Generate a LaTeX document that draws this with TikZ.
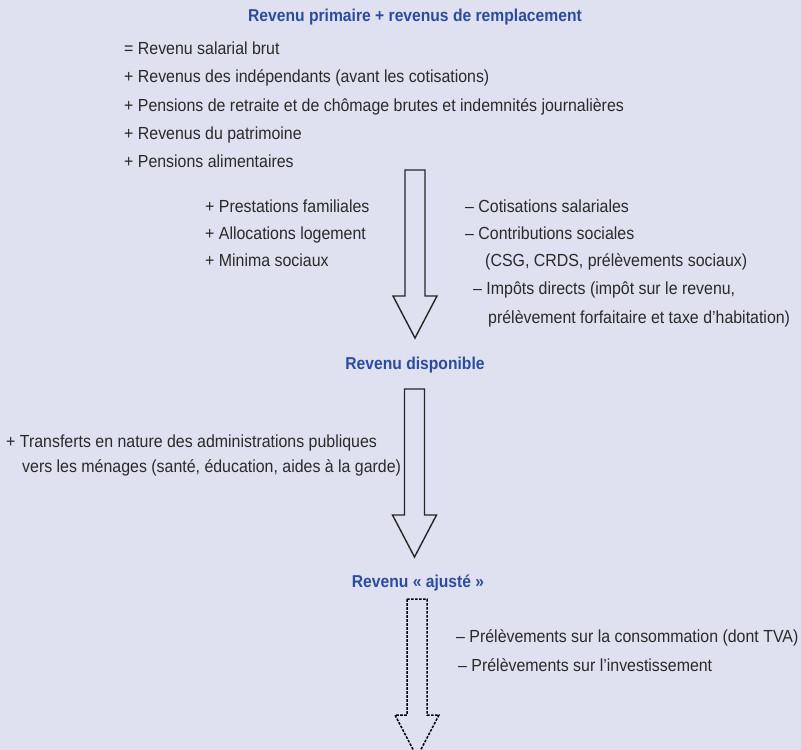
\documentclass[tikz,border=0pt]{standalone}
\usepackage{fontspec}
\setmainfont{Liberation Sans}[FakeStretch=0.91]
\usetikzlibrary{calc}
\definecolor{bgblue}{HTML}{DFE1F0}
\definecolor{headblue}{HTML}{2B4C9E}
\definecolor{textdark}{HTML}{2A2A2A}
\definecolor{linedark}{HTML}{262626}
\tikzset{
  heading/.style={font=\fontsize{17.2}{20}\selectfont\bfseries, text=headblue, inner sep=0pt},
  item/.style={anchor=west, font=\fontsize{17.5}{20}\selectfont, text=textdark,
    inner sep=0pt, text height=12pt, text depth=4pt},
  flow/.style={draw=linedark, line width=1.4pt, line join=miter},
  flowdashed/.style={flow, draw=black, line width=1.5pt, dash pattern=on 2.6pt off 1.4pt}
}
% hollow block arrow: #1 style, #2 top of shaft, #3 tip
\newcommand{\blockarrow}[3]{
  \draw[#1] let \p1=(#2), \p2=(#3) in
    (\x1-10pt,\y1) -- (\x1+10pt,\y1) -- (\x1+10pt,\y2+42pt) -- (\x1+22pt,\y2+42pt)
    -- (\x1,\y2) -- (\x1-22pt,\y2+42pt) -- (\x1-10pt,\y2+42pt) -- cycle;
}

\begin{document}
\begin{tikzpicture}[x=1pt,y=-1pt]
\fill[bgblue] (0,0) rectangle (801,750);
\useasboundingbox (0,0) rectangle (801,750);
% first block
\node[heading] (primaire) at (415,17) {Revenu primaire + revenus de remplacement};
\foreach \ypos/\txt [count=\i] in {50/{= Revenu salarial brut},
    78/{+ Revenus des indépendants (avant les cotisations)},
    107/{+ Pensions de retraite et de chômage brutes et indemnités journalières},
    135/{+ Revenus du patrimoine},
    163/{+ Pensions alimentaires}}
  \node[item] (comp\i) at (124,\ypos) {\txt};
\coordinate (a1s) at (415,170);
\coordinate (a1e) at (415,338);
\blockarrow{flow}{a1s}{a1e}
\foreach \ypos/\txt [count=\i] in {208/{+ Prestations familiales},
    235/{+ Allocations logement},
    262/{+ Minima sociaux}}
  \node[item] (plus\i) at (205,\ypos) {\txt};
\node[item] (moins1) at (465,208) {– Cotisations salariales};
\node[item] (moins2) at (465,235) {– Contributions sociales};
\node[item] (moins2b) at (485,262) {(CSG, CRDS, prélèvements sociaux)};
\node[item] (moins3) at (473,290) {– Impôts directs (impôt sur le revenu,};
\node[item] (moins3b) at (488,319) {prélèvement forfaitaire et taxe d’habitation)};
% second block
\node[heading] (dispo) at (415,365) {Revenu disponible};
\coordinate (a2s) at (414.5,389);
\coordinate (a2e) at (414.5,557);
\blockarrow{flow}{a2s}{a2e}
\node[item] (transf) at (6,443) {+ Transferts en nature des administrations publiques};
\node[item] (transfb) at (22,468) {vers les ménages (santé, éducation, aides à la garde)};
% third block
\node[heading] (ajuste) at (418,583) {Revenu « ajusté »};
\coordinate (a3s) at (417,599);
\coordinate (a3e) at (417,757);
\blockarrow{flowdashed}{a3s}{a3e}
\node[item] (conso) at (456,638) {– Prélèvements sur la consommation (dont TVA)};
\node[item] (invest) at (458,667) {– Prélèvements sur l’investissement};
\end{tikzpicture}
\end{document}
